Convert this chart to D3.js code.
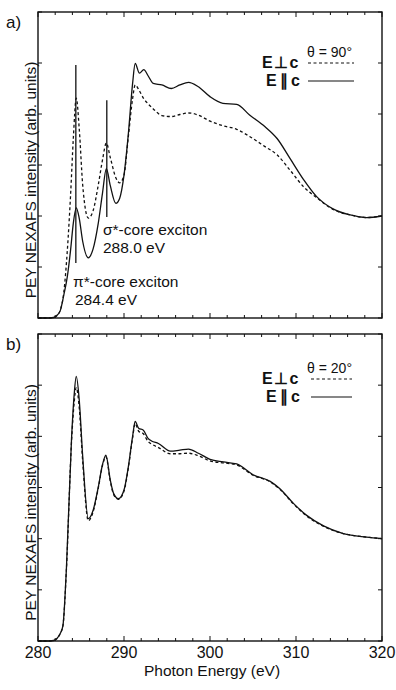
<!DOCTYPE html>
<html>
<head>
<meta charset="utf-8">
<script src="https://cdn.jsdelivr.net/npm/d3@7"></script>
<style>
  body { margin: 0; background: #fff; }
  text { font-family: "Liberation Sans", Arial, sans-serif; fill: #111; }
</style>
</head>
<body>
<div id="chart"></div>
<script>
////////////////////////////////////////////////////////////
//////////////////////// Data //////////////////////////////
////////////////////////////////////////////////////////////

// panel a) theta = 90 deg
var energyA = [280, 281, 281.8, 282.2, 282.6, 283.0, 283.4, 283.8, 284.1, 284.45, 284.8, 285.2, 285.85, 286.4, 287.0, 287.5, 287.95, 288.4, 289.05, 289.5, 290.0, 290.5, 291.0, 291.3, 291.8, 292.3, 292.8, 293.4, 294.4, 295.5, 296.5, 297.5, 298.6, 300, 301.5, 303.1, 304.6, 306.4, 307.8, 309.3, 310.9, 312.4, 314.3, 316.3, 318.2, 320];
var parA = [0, 0, 0.01, 0.05, 0.15, 0.45, 0.8, 1.35, 1.85, 2.16, 1.95, 1.5, 1.18, 1.35, 1.85, 2.45, 2.93, 2.6, 2.25, 2.35, 2.8, 3.6, 4.6, 4.99, 4.8, 4.87, 4.75, 4.6, 4.57, 4.5, 4.57, 4.62, 4.54, 4.34, 4.21, 4.19, 3.98, 3.75, 3.52, 3.13, 2.71, 2.38, 2.14, 2.02, 1.97, 2.0];
var perpA = [0, 0, 0.01, 0.05, 0.16, 0.5, 1.3, 2.45, 3.5, 4.31, 3.7, 2.6, 1.96, 2.1, 2.6, 3.1, 3.43, 3.15, 2.75, 2.65, 2.8, 3.55, 4.3, 4.57, 4.45, 4.3, 4.2, 4.1, 3.97, 3.95, 3.99, 4.02, 3.98, 3.86, 3.77, 3.7, 3.56, 3.36, 3.2, 2.9, 2.57, 2.36, 2.13, 2.02, 1.97, 2.0];

// panel b) theta = 20 deg
var energyB = [280, 281, 281.8, 282.2, 282.6, 282.9, 283.3, 283.9, 284.2, 284.45, 284.8, 285.2, 285.85, 286.4, 287.0, 287.5, 287.9, 288.4, 288.8, 289.35, 290.0, 290.5, 291.0, 291.3, 291.7, 292.25, 292.8, 293.2, 294.0, 295.4, 296.5, 297.5, 298.65, 300, 301.55, 303.1, 305.0, 307.0, 308.1, 309.7, 311.2, 313.2, 315.5, 318.2, 320];
var parB = [0, 0, 0.01, 0.05, 0.15, 0.3, 1.4, 3.96, 4.8, 5.17, 4.7, 3.6, 2.39, 2.55, 3.0, 3.45, 3.63, 3.15, 2.88, 2.78, 2.95, 3.4, 4.0, 4.29, 4.16, 4.12, 3.96, 3.91, 3.86, 3.71, 3.73, 3.75, 3.67, 3.55, 3.5, 3.46, 3.25, 3.12, 2.98, 2.69, 2.46, 2.25, 2.1, 2.03, 2.0];
var perpB = [0, 0, 0.01, 0.05, 0.15, 0.3, 1.38, 3.9, 4.65, 4.95, 4.55, 3.5, 2.35, 2.52, 2.98, 3.43, 3.6, 3.13, 2.86, 2.77, 2.93, 3.38, 3.97, 4.25, 4.1, 4.05, 3.9, 3.85, 3.78, 3.66, 3.66, 3.67, 3.62, 3.52, 3.48, 3.44, 3.24, 3.11, 2.97, 2.68, 2.45, 2.24, 2.1, 2.03, 2.0];

var xTicks = [280, 290, 300, 310, 320];
var peakMarks = [
  { e: 284.4, lo: 1.08, hi: 4.96, name: "\u03c0*-core exciton", label: "284.4 eV" },
  { e: 288.0, lo: 1.98, hi: 4.27, name: "\u03c3*-core exciton", label: "288.0 eV" }
];

////////////////////////////////////////////////////////////
////////////////////// Set-Up //////////////////////////////
////////////////////////////////////////////////////////////

var width = 396, height = 690;
var left = 38, right = 382;

var svg = d3.select("#chart").append("svg")
  .attr("width", width)
  .attr("height", height);

var x = d3.scaleLinear().domain([280, 320]).range([left, right]);

var panels = [
  { top: 12, bottom: 318, energy: energyA, par: parA, perp: perpA, tag: "a)", theta: "\u03b8 = 90\u00b0", legY: 52, lineX: [308, 354] },
  { top: 334, bottom: 641, energy: energyB, par: parB, perp: perpB, tag: "b)", theta: "\u03b8 = 20\u00b0", legY: 368, lineX: [311, 352] }
];

panels.forEach(function(p, k) {
  var y = d3.scaleLinear().domain([0, 6]).range([p.bottom, p.top]);
  var g = svg.append("g");

  var line = d3.line()
    .x(function(d) { return x(d[0]); })
    .y(function(d) { return y(d[1]); })
    .curve(d3.curveMonotoneX);

  // frame
  g.append("rect")
    .attr("x", left).attr("y", p.top)
    .attr("width", right - left).attr("height", p.bottom - p.top)
    .attr("fill", "none").attr("stroke", "#111").attr("stroke-width", 1.4);

  // x ticks (inward, top and bottom)
  d3.range(280, 321, 2).forEach(function(v) {
    var len = (v % 10 === 0) ? 5 : 3;
    g.append("line").attr("x1", x(v)).attr("x2", x(v))
      .attr("y1", p.bottom).attr("y2", p.bottom - len)
      .attr("stroke", "#111").attr("stroke-width", 1);
    g.append("line").attr("x1", x(v)).attr("x2", x(v))
      .attr("y1", p.top).attr("y2", p.top + len)
      .attr("stroke", "#111").attr("stroke-width", 1);
  });

  // y ticks (inward, left and right)
  y.ticks(6).forEach(function(v) {
    g.append("line").attr("x1", left).attr("x2", left + 4)
      .attr("y1", y(v)).attr("y2", y(v))
      .attr("stroke", "#111").attr("stroke-width", 1);
    g.append("line").attr("x1", right).attr("x2", right - 4)
      .attr("y1", y(v)).attr("y2", y(v))
      .attr("stroke", "#111").attr("stroke-width", 1);
  });

  // curves
  g.append("path")
    .datum(d3.zip(p.energy, p.perp))
    .attr("d", line)
    .attr("fill", "none").attr("stroke", "#111")
    .attr("stroke-width", 1.3).attr("stroke-dasharray", "3,2.5");

  g.append("path")
    .datum(d3.zip(p.energy, p.par))
    .attr("d", line)
    .attr("fill", "none").attr("stroke", "#111")
    .attr("stroke-width", 1.3);

  // panel tag
  svg.append("text")
    .attr("x", 6).attr("y", p.top + 16)
    .style("font-size", "17px")
    .text(p.tag);

  // y label
  svg.append("text")
    .attr("transform", "translate(36," + ((p.top + p.bottom) / 2 + 15) + ") rotate(-90)")
    .attr("text-anchor", "middle")
    .style("font-size", "15.5px")
    .text("PEY NEXAFS intensity (arb. units)");

  // legend
  svg.append("text")
    .attr("x", 352).attr("y", p.legY + 5)
    .attr("text-anchor", "end")
    .style("font-size", "14px")
    .text(p.theta);

  var leg = [
    { label: "E\u22a5c", dash: "3,2.5", dy: 16, ls: 1.5 },
    { label: "E\u2009\u2225\u2009c", dash: null, dy: 34, ls: 0 }
  ];
  leg.forEach(function(l) {
    svg.append("text")
      .attr("x", 300).attr("y", p.legY + l.dy)
      .attr("text-anchor", "end")
      .style("font-size", "16px").style("font-weight", "bold")
      .style("letter-spacing", l.ls + "px")
      .text(l.label);
    svg.append("line")
      .attr("x1", p.lineX[0]).attr("x2", p.lineX[1])
      .attr("y1", p.legY + l.dy - 5).attr("y2", p.legY + l.dy - 5)
      .attr("stroke", "#111").attr("stroke-width", 1.2)
      .attr("stroke-dasharray", l.dash);
  });

  // peak markers and notes (panel a only)
  if (k === 0) {
    peakMarks.forEach(function(m) {
      g.append("line")
        .attr("x1", x(m.e)).attr("x2", x(m.e))
        .attr("y1", y(m.hi)).attr("y2", y(m.lo))
        .attr("stroke", "#111").attr("stroke-width", 1.3);
    });
    svg.append("text").attr("x", 73).attr("y", 287).style("font-size", "15.5px").text(peakMarks[0].name);
    svg.append("text").attr("x", 75).attr("y", 305).style("font-size", "15.5px").text(peakMarks[0].label);
    svg.append("text").attr("x", 103).attr("y", 235).style("font-size", "15.5px").text(peakMarks[1].name);
    svg.append("text").attr("x", 103).attr("y", 253).style("font-size", "15.5px").text(peakMarks[1].label);
  }

  // x tick labels under the lower panel
  if (k === 1) {
    xTicks.forEach(function(v) {
      svg.append("text")
        .attr("x", x(v)).attr("y", p.bottom + 17)
        .attr("text-anchor", "middle")
        .style("font-size", "16px")
        .text(v);
    });
    svg.append("text")
      .attr("x", (left + right) / 2 + 2).attr("y", p.bottom + 35)
      .attr("text-anchor", "middle")
      .style("font-size", "15.5px")
      .text("Photon Energy (eV)");
  }
});
</script>
</body>
</html>
